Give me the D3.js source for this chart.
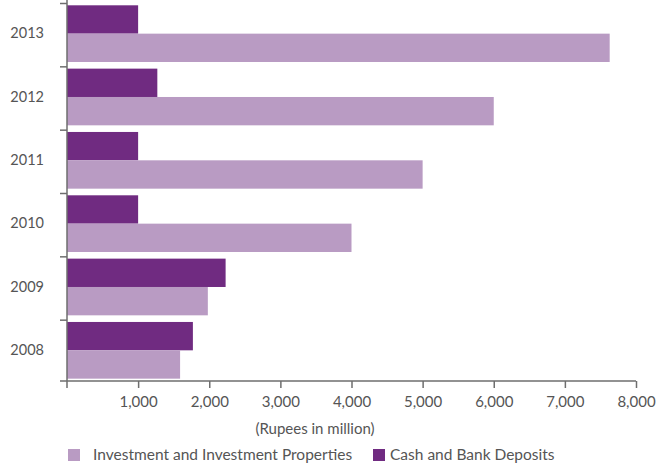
<!DOCTYPE html>
<html><head><meta charset="utf-8">
<script src="https://cdn.jsdelivr.net/npm/d3@7/dist/d3.min.js"></script>
<style>
html,body{margin:0;padding:0;background:#fff;}
svg{display:block;font-family:Lato,"Open Sans",sans-serif;}
</style></head>
<body>
<svg id="chart" width="660" height="472"></svg>
<script>
const years = ["2013","2012","2011","2010","2009","2008"];
const seriesNames = ["Cash and Bank Deposits","Investment and Investment Properties"];
const cashDeposits = [1000,1270,1000,1000,2230,1770];
const investments = [7630,6000,5000,4000,1980,1590];
const xTicks = [1000,2000,3000,4000,5000,6000,7000,8000];
const axisTitle = "(Rupees in million)";
const legendOrder = ["Investment and Investment Properties","Cash and Bank Deposits"];
const colors = {"Cash and Bank Deposits":"#702b81","Investment and Investment Properties":"#b99bc3"};

const svg = d3.select("#chart");
const x = d3.scaleLinear().domain([0,8000]).range([67,636]);
const y = d3.scaleBand().domain(years).range([3.5,383.5]).paddingInner(0).paddingOuter(0);
const y1 = d3.scaleBand().domain(seriesNames).range([1.8,58.5]).padding(0);
const axisY = 381;
const textColor = "#555";
const axisColor = "#6e6e6e";

const data = years.map((yr,i)=>({year:yr, vals:[
  {s:seriesNames[0], v:cashDeposits[i]},
  {s:seriesNames[1], v:investments[i]}]}));

const g = svg.append("g");
g.selectAll("g.yr").data(data).join("g").attr("class","yr")
  .attr("transform",d=>`translate(0,${y(d.year)})`)
  .selectAll("rect").data(d=>d.vals).join("rect")
  .attr("x",x(0)).attr("y",d=>y1(d.s))
  .attr("width",d=>x(d.v)-x(0)).attr("height",y1.bandwidth())
  .attr("fill",d=>colors[d.s]);

// y axis
svg.append("line").attr("x1",x(0)).attr("x2",x(0)).attr("y1",0).attr("y2",axisY+7)
  .attr("stroke",axisColor).attr("stroke-width",1.5);
svg.selectAll("line.ytick").data(years).join("line").attr("class","ytick")
  .attr("x1",x(0)-7).attr("x2",x(0)).attr("y1",d=>y(d)).attr("y2",d=>y(d))
  .attr("stroke",axisColor).attr("stroke-width",1.5);
svg.selectAll("text.ylab").data(years).join("text").attr("class","ylab")
  .attr("x",44).attr("y",d=>y(d)+y.bandwidth()/2-2).attr("dy","0.35em")
  .attr("text-anchor","end").attr("fill",textColor).attr("font-size",14.5).text(d=>d);

// x axis
const xAxis = d3.axisBottom(x).tickValues(xTicks).tickSize(7).tickSizeOuter(0)
  .tickFormat(d3.format(","));
const xg = svg.append("g").attr("transform",`translate(0,${axisY})`).call(xAxis);
xg.select(".domain").remove();
svg.append("line").attr("x1",x(0)-7).attr("x2",x(8000)).attr("y1",axisY).attr("y2",axisY)
  .attr("stroke",axisColor).attr("stroke-width",1.5);
xg.selectAll(".tick line").attr("stroke",axisColor).attr("stroke-width",1.5);
xg.selectAll(".tick text").attr("fill",textColor).attr("font-size",15)
  .attr("font-family","Lato,sans-serif").attr("y",15);

svg.append("text").attr("x",315).attr("y",434).attr("text-anchor","middle")
  .attr("fill",textColor).attr("font-size",15).text(axisTitle);

// legend
const legX = [68,373];
const lg = svg.selectAll("g.leg").data(legendOrder).join("g").attr("class","leg")
  .attr("transform",(d,i)=>`translate(${legX[i]},449)`);
lg.append("rect").attr("width",12).attr("height",12).attr("fill",d=>colors[d]);
lg.append("text").attr("x",d=>d===legendOrder[0]?25:17).attr("y",11)
  .attr("fill",textColor).attr("font-size",15.5).text(d=>d);
</script>
</body></html>
